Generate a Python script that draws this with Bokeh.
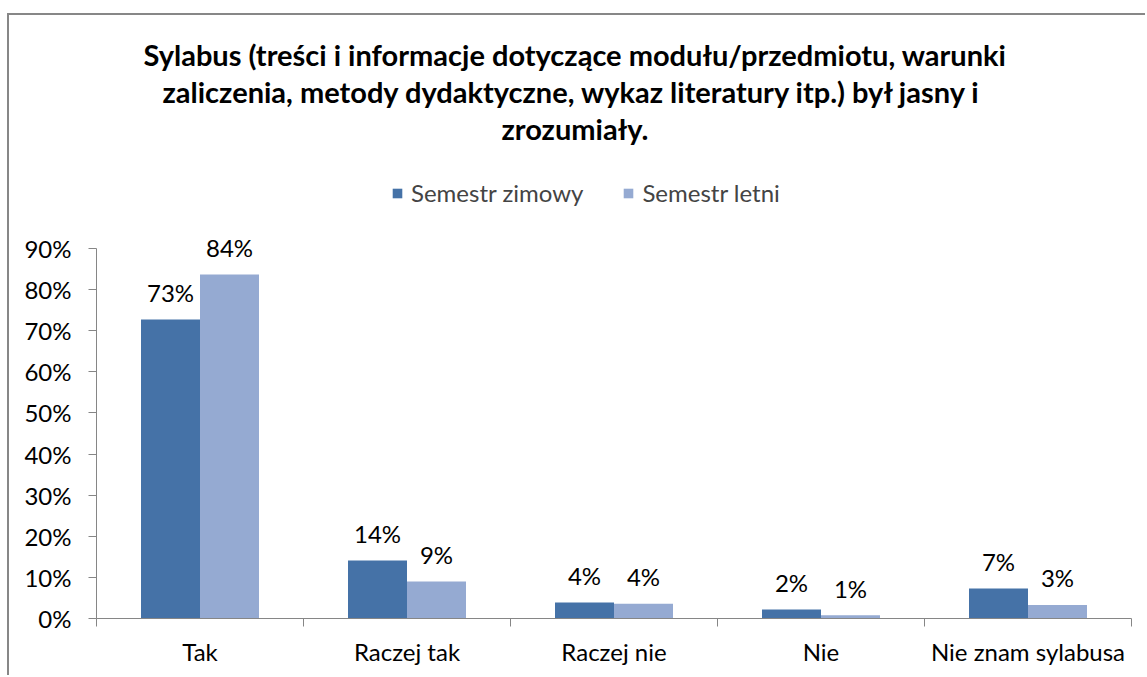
import numpy as np
from bokeh.plotting import figure
from bokeh.models import (ColumnDataSource, FixedTicker, Legend, LegendItem, Title,
                          PrintfTickFormatter)
from bokeh.core.properties import value
from bokeh.embed import file_html
from bokeh.resources import INLINE

categories = ["Tak", "Raczej tak", "Raczej nie", "Nie", "Nie znam sylabusa"]
zimowy = [72.7, 14.1, 3.9, 2.2, 7.3]
letni = [83.7, 9.0, 3.6, 0.8, 3.3]
series_names = ["Semestr zimowy", "Semestr letni"]
colors = ["#4572A7", "#95AAD2"]
y_ticks = [0, 10, 20, 30, 40, 50, 60, 70, 80, 90]
title_lines = ["Sylabus (treści i informacje dotyczące modułu/przedmiotu, warunki",
               "zaliczenia, metody dydaktyczne, wykaz literatury itp.) był jasny i",
               "zrozumiały."]
title_offsets = [47, 66, 405]

FONT = "Lato"
FS = "24px"
bar_w = 0.285
idx = np.arange(len(categories))
y_max = y_ticks[-1]
y_top = 115.05  # extra headroom above the axis for the legend

p = figure(width=1138, height=662, x_range=(0, len(categories)), y_range=(0, y_top),
           output_backend="svg", toolbar_location=None,
           min_border_left=87, min_border_right=16, min_border_bottom=59, min_border_top=130)
p.styles = {"margin-left": "7px", "margin-top": "13px",
            "border-left": "2px solid #878787", "border-top": "2px solid #878787"}
p.title = None
p.xgrid.visible = False
p.ygrid.visible = False
p.outline_line_color = None
p.background_fill_color = "white"
p.border_fill_color = "white"

renderers = []
for k, (vals, name, col) in enumerate(zip([zimowy, letni], series_names, colors)):
    xs = idx + 0.5 + (k - 0.5) * bar_w
    src = ColumnDataSource(dict(x=xs, top=vals,
                                lab=[f"{int(round(v))}%" for v in vals]))
    r = p.vbar(x="x", top="top", width=bar_w, bottom=0, source=src,
               fill_color=col, line_color=None)
    renderers.append((name, r))
    p.text(x="x", y="top", text="lab", source=src, text_align="center",
           text_baseline="alphabetic", y_offset=-27, text_font=value(FONT),
           text_font_size=FS, text_color="#000000")

legend = Legend(items=[LegendItem(label=n, renderers=[r]) for n, r in renderers],
                orientation="horizontal", location=(295, 411),
                label_text_font=FONT, label_text_font_size=FS,
                glyph_width=12, glyph_height=12, label_standoff=8, spacing=39,
                padding=0, margin=0, border_line_color=None, background_fill_alpha=0,
                label_height=24)
p.add_layout(legend, "center")

for line, off in reversed(list(zip(title_lines, title_offsets))):
    t = Title(text=line, align="left", offset=off, text_font_size="29px", text_font=FONT,
              text_font_style="bold", text_color="#000000", text_line_height=1.2,
              standoff=0)
    p.add_layout(t, "above")

ax = p.yaxis[0]
ax.ticker = FixedTicker(ticks=y_ticks)
ax.bounds = (0, y_max)
ax.formatter = PrintfTickFormatter(format="%d%%")
ax.axis_line_color = "#868686"
ax.major_tick_line_color = "#868686"
ax.major_tick_out = 8
ax.major_tick_in = 0
ax.minor_tick_out = 0
ax.minor_tick_in = 0
ax.major_label_standoff = 17
ax.major_label_text_font = FONT
ax.major_label_text_font_size = FS
ax.major_label_text_color = "#000000"

xa = p.xaxis[0]
xa.ticker = FixedTicker(ticks=list(idx + 0.5), minor_ticks=list(range(len(categories) + 1)))
xa.major_label_overrides = {float(i + 0.5): c for i, c in enumerate(categories)}
xa.axis_line_color = "#868686"
xa.major_tick_out = 0
xa.major_tick_in = 0
xa.minor_tick_line_color = "#868686"
xa.minor_tick_out = 8
xa.minor_tick_in = 0
xa.major_label_standoff = 10
xa.major_label_text_font = FONT
xa.major_label_text_font_size = FS
xa.major_label_text_color = "#000000"

open("out.html", "w").write(file_html(p, INLINE))
